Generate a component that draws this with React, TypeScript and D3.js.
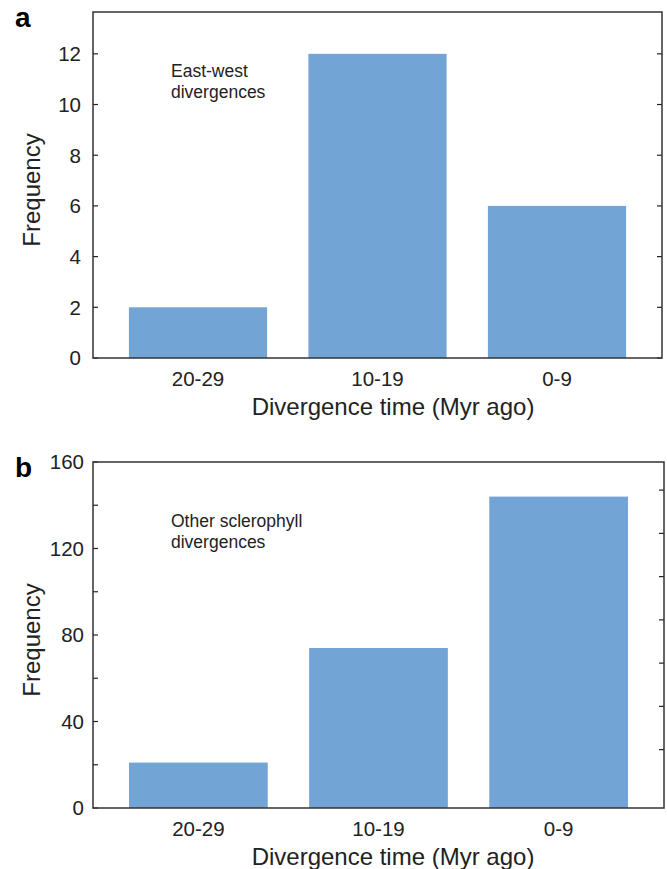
import React from 'react';
import * as d3 from 'd3';

// values
const categories = ['20-29', '10-19', '0-9'];
const freqEastWest = [2, 12, 6];
const freqOther = [21, 74, 144];

const ticksA = [0, 2, 4, 6, 8, 10, 12];
const ticksBLabelled = [0, 40, 80, 120, 160];
const ticksBAll = [0, 20, 40, 60, 80, 100, 120, 140, 160];
const rightTicksB = [27, 47, 67, 87, 107, 127, 147];

const noteA = ['East-west', 'divergences'];
const noteB = ['Other sclerophyll', 'divergences'];

const xTitle = 'Divergence time (Myr ago)';
const yTitle = 'Frequency';

const W = 667;
const H = 869;
const FONT = '"Liberation Sans", Arial, Helvetica, sans-serif';
const BAR = '#72a4d6';
const INK = '#222';

type PanelProps = {
  letter: string;
  values: number[];
  yMax: number;
  tickVals: number[];
  labelVals: number[];
  rightVals: number[];
  note: string[];
  top: number;
  bottom: number;
  left: number;
  right: number;
  labelX: number;
};

function Panel(p: PanelProps) {
  const x = d3.scaleBand<string>()
    .domain(categories)
    .range([p.left, p.right])
    .paddingInner(0.23)
    .paddingOuter(0.2);
  const y = d3.scaleLinear().domain([0, p.yMax]).range([p.bottom, p.top]);
  const fmt = d3.format('d');

  return (
    <g>
      <text x={15} y={p.top + 15} fontFamily={FONT} fontWeight="bold" fontSize={28} fill="#000">
        {p.letter}
      </text>

      {p.values.map((v, i) => (
        <rect key={categories[i]} x={x(categories[i])} y={y(v)}
          width={x.bandwidth()} height={y(0) - y(v)} fill={BAR} />
      ))}

      {p.note.map((line, i) => (
        <text key={i} x={171} y={p.top + 65 + i * 21} fontFamily={FONT}
          fontSize={17.5} fill={INK}>{line}</text>
      ))}

      {/* inward ticks, left */}
      {p.tickVals.map(t => (
        <line key={'l' + t} x1={p.left} x2={p.left + 5} y1={y(t)} y2={y(t)}
          stroke={INK} strokeWidth={1.2} />
      ))}
      {/* inward ticks, right */}
      {p.rightVals.map(t => (
        <line key={'r' + t} x1={p.right} x2={p.right - 5} y1={y(t)} y2={y(t)}
          stroke={INK} strokeWidth={1.2} />
      ))}
      {p.labelVals.map(t => (
        <text key={'t' + t} x={p.labelX} y={y(t)} dy="0.36em" textAnchor="end"
          fontFamily={FONT} fontSize={20.5} fill={INK}>{fmt(t)}</text>
      ))}

      <rect x={p.left} y={p.top} width={p.right - p.left} height={p.bottom - p.top}
        fill="none" stroke="#333" strokeWidth={1.5} />

      {categories.map(c => (
        <text key={c} x={(x(c) || 0) + x.bandwidth() / 2} y={p.bottom + 28}
          textAnchor="middle" fontFamily={FONT} fontSize={20.5} fill={INK}>{c}</text>
      ))}
      <text x={393} y={p.bottom + 57} textAnchor="middle" fontFamily={FONT}
        fontSize={24} fill={INK}>{xTitle}</text>
      <text transform={`translate(40,${(p.top + p.bottom) / 2 + 5}) rotate(-90)`}
        textAnchor="middle" fontFamily={FONT} fontSize={24} fill={INK}>{yTitle}</text>
    </g>
  );
}

export default function App() {
  return (
    <svg width={W} height={H} style={{ position: 'absolute', left: 0, top: 0, background: '#fff' }}>
      <Panel letter="a" values={freqEastWest} yMax={13.65} tickVals={ticksA}
        labelVals={ticksA} rightVals={ticksA} note={noteA}
        top={12} bottom={358} left={93} right={662} labelX={81} />
      <Panel letter="b" values={freqOther} yMax={160} tickVals={ticksBAll}
        labelVals={ticksBLabelled} rightVals={rightTicksB} note={noteB}
        top={462} bottom={808} left={93} right={664} labelX={84} />
    </svg>
  );
}
